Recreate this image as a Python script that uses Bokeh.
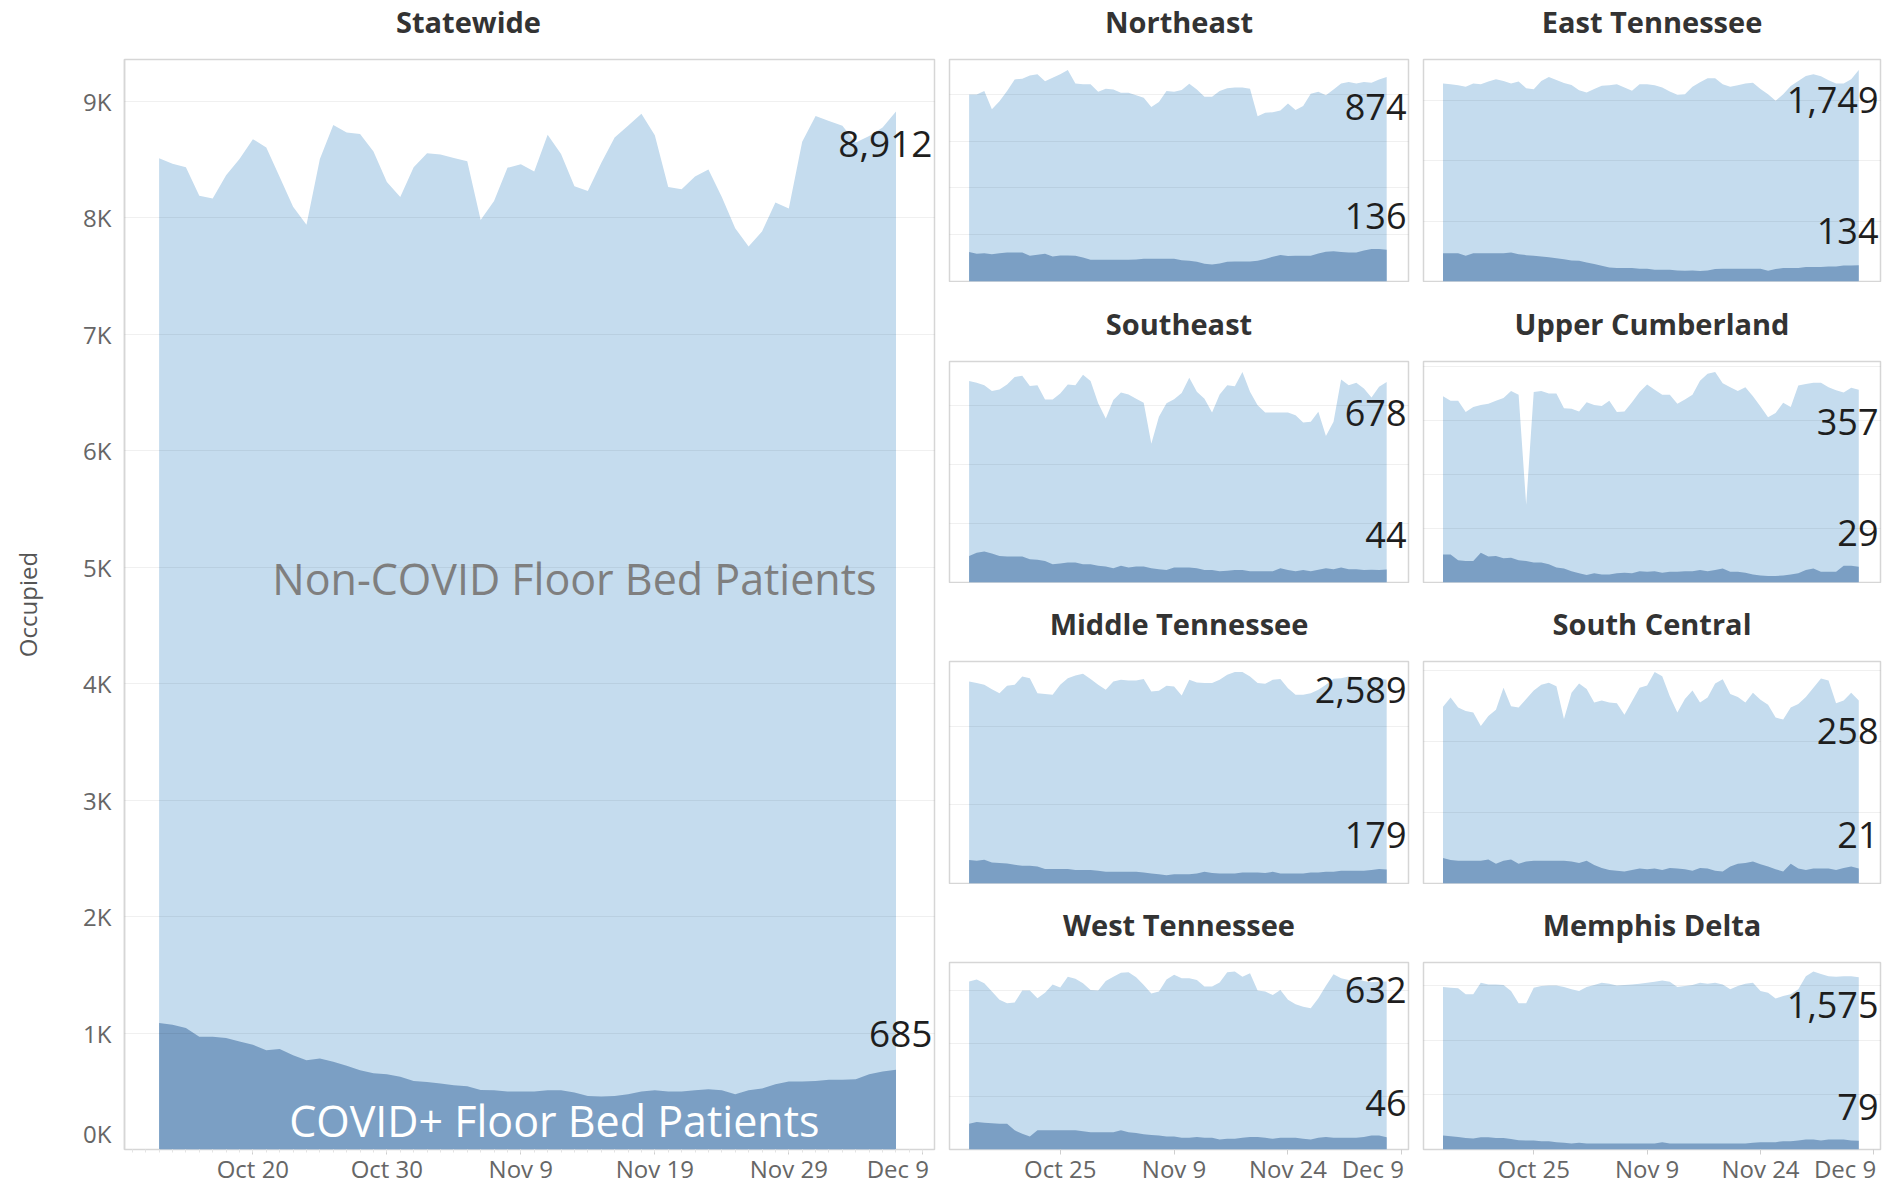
import pandas as pd
from bokeh.plotting import figure
from bokeh.layouts import row, column
from bokeh.models import Range1d, FixedTicker, CustomJSTickFormatter
from bokeh.core.properties import value
from bokeh.embed import file_html
from bokeh.resources import INLINE

# ---------------- data ----------------
DATES = pd.date_range("2020-10-13", "2020-12-07", freq="D")  # 56 days

STATEWIDE_NON = [8510, 8462, 8433, 8187, 8164, 8363, 8504, 8674, 8603, 8348,
                 8093, 7938, 8504, 8796, 8731, 8717, 8567, 8306, 8178, 8433,
                 8552, 8541, 8513, 8484, 7980, 8142, 8428, 8459, 8397, 8711,
                 8547, 8269, 8229, 8470, 8688, 8788, 8892, 8708, 8263, 8244,
                 8354, 8414, 8178, 7909, 7753, 7881, 8130, 8079, 8652, 8873,
                 8830, 8788, 8646, 8700, 8773, 8912]
STATEWIDE_COVID = [1086, 1072, 1043, 968, 968, 957, 928, 899, 853, 862,
                   810, 767, 782, 753, 718, 681, 655, 647, 624, 589,
                   580, 566, 552, 543, 511, 509, 497, 497, 497, 509,
                   509, 489, 460, 454, 460, 474, 497, 509, 497, 497,
                   509, 517, 509, 474, 509, 523, 560, 583, 583, 589,
                   598, 598, 603, 647, 670, 685]

NE_NON = [800, 800, 814, 736, 771, 814, 864, 867, 881, 886,
          856, 871, 886, 904, 847, 843, 843, 811, 824, 821,
          807, 807, 796, 786, 746, 767, 814, 811, 819, 846,
          821, 790, 790, 814, 826, 829, 829, 824, 707, 721,
          724, 731, 761, 733, 750, 803, 811, 796, 821, 847,
          853, 847, 853, 850, 864, 874]
NE_COVID = [126, 119, 121, 117, 121, 124, 124, 124, 110, 114,
            119, 107, 111, 111, 110, 103, 93, 93, 93, 93,
            93, 93, 94, 97, 97, 97, 97, 97, 91, 89,
            84, 76, 73, 77, 84, 86, 86, 86, 89, 96,
            106, 113, 109, 110, 110, 110, 120, 127, 129, 126,
            124, 124, 133, 139, 139, 136]

ET_NON = [1637, 1632, 1624, 1610, 1637, 1632, 1654, 1673, 1659, 1637,
          1654, 1599, 1591, 1659, 1692, 1667, 1643, 1626, 1582, 1563,
          1593, 1620, 1624, 1632, 1604, 1577, 1632, 1632, 1624, 1604,
          1571, 1544, 1549, 1610, 1648, 1681, 1681, 1632, 1610, 1624,
          1637, 1645, 1593, 1549, 1495, 1549, 1618, 1659, 1700, 1714,
          1697, 1665, 1637, 1637, 1673, 1749]
ET_COVID = [234, 234, 234, 212, 234, 234, 234, 234, 234, 240,
            226, 218, 212, 207, 201, 193, 185, 174, 171, 158,
            144, 130, 116, 111, 111, 111, 105, 105, 97, 97,
            97, 92, 89, 92, 86, 92, 103, 105, 105, 105,
            105, 105, 105, 89, 103, 111, 111, 111, 119, 119,
            119, 125, 125, 133, 133, 134]

SE_NON = [682, 676, 667, 648, 653, 670, 695, 699, 665, 667,
          619, 619, 639, 670, 667, 703, 682, 606, 555, 617,
          643, 636, 622, 608, 469, 561, 606, 620, 641, 693,
          645, 622, 575, 636, 667, 664, 712, 645, 600, 575,
          575, 575, 575, 566, 541, 544, 578, 496, 544, 687,
          667, 676, 656, 626, 662, 678]
SE_COVID = [90, 101, 105, 98, 90, 88, 88, 88, 79, 77,
            73, 62, 64, 68, 68, 62, 62, 57, 54, 48,
            57, 51, 54, 54, 48, 45, 42, 51, 51, 51,
            48, 42, 42, 38, 40, 42, 42, 38, 38, 38,
            38, 48, 42, 38, 42, 38, 43, 48, 45, 51,
            45, 45, 42, 43, 42, 44]

UC_NON = [345, 337, 337, 316, 325, 329, 331, 337, 342, 355,
          348, 144, 353, 355, 350, 350, 323, 322, 317, 334,
          329, 327, 337, 316, 317, 334, 353, 367, 357, 348,
          348, 331, 339, 348, 374, 387, 390, 369, 362, 355,
          362, 345, 326, 306, 314, 333, 325, 365, 368, 370,
          370, 362, 356, 352, 361, 357]
UC_COVID = [52, 52, 41, 40, 40, 55, 48, 49, 45, 46,
            41, 40, 37, 37, 34, 28, 26, 21, 17, 14,
            17, 15, 15, 17, 18, 17, 21, 20, 21, 18,
            20, 20, 21, 21, 23, 21, 23, 26, 20, 20,
            18, 15, 13, 12, 12, 13, 15, 17, 23, 26,
            20, 20, 20, 31, 31, 29]

MT_NON = [2566, 2545, 2523, 2468, 2417, 2510, 2523, 2630, 2608, 2417,
          2408, 2396, 2523, 2608, 2642, 2664, 2596, 2523, 2459, 2566,
          2587, 2579, 2579, 2596, 2438, 2447, 2510, 2502, 2387, 2587,
          2553, 2545, 2545, 2587, 2651, 2685, 2685, 2630, 2545, 2536,
          2587, 2596, 2481, 2396, 2396, 2417, 2459, 2523, 2600, 2608,
          2630, 2621, 2596, 2587, 2608, 2589]
MT_COVID = [298, 289, 302, 268, 260, 255, 238, 226, 226, 217,
            183, 183, 183, 183, 170, 170, 170, 162, 149, 149,
            149, 149, 149, 140, 128, 119, 106, 119, 119, 119,
            128, 149, 132, 128, 128, 128, 140, 140, 140, 132,
            149, 128, 128, 128, 128, 140, 140, 149, 149, 162,
            162, 162, 162, 170, 183, 179]

SC_NON = [249, 262, 248, 243, 241, 222, 236, 245, 276, 250,
          248, 260, 272, 280, 283, 278, 232, 269, 282, 274,
          255, 258, 255, 254, 238, 257, 276, 279, 298, 292,
          264, 241, 260, 272, 255, 262, 282, 288, 267, 263,
          255, 269, 259, 252, 234, 231, 248, 253, 263, 276,
          289, 286, 254, 258, 269, 258]
SC_COVID = [36, 33, 32, 32, 32, 32, 34, 28, 32, 34,
            28, 31, 32, 32, 32, 32, 32, 31, 29, 32,
            26, 22, 19, 18, 17, 19, 21, 20, 21, 19,
            22, 21, 20, 18, 22, 21, 18, 17, 24, 28,
            29, 31, 27, 24, 20, 17, 28, 21, 19, 21,
            21, 21, 19, 22, 24, 21]

WT_NON = [632, 640, 625, 594, 563, 550, 553, 598, 598, 569,
          590, 621, 609, 650, 642, 625, 600, 598, 634, 650,
          665, 667, 648, 619, 587, 594, 640, 657, 644, 644,
          638, 613, 613, 628, 667, 670, 650, 663, 598, 594,
          581, 600, 563, 546, 537, 531, 569, 616, 659, 644,
          638, 642, 634, 629, 632, 632]
WT_COVID = [97, 103, 101, 99, 97, 97, 72, 59, 49, 72,
            72, 72, 72, 72, 72, 69, 65, 65, 65, 65,
            72, 65, 62, 57, 55, 53, 49, 49, 44, 44,
            47, 44, 44, 38, 40, 40, 44, 47, 47, 44,
            40, 44, 44, 44, 40, 38, 44, 47, 44, 44,
            44, 44, 47, 53, 53, 46]

MD_NON = [1485, 1479, 1473, 1419, 1419, 1524, 1509, 1509, 1503, 1449,
          1336, 1336, 1479, 1494, 1500, 1500, 1485, 1464, 1449, 1485,
          1503, 1524, 1515, 1500, 1503, 1509, 1515, 1524, 1533, 1545,
          1533, 1485, 1494, 1503, 1524, 1515, 1524, 1509, 1464, 1494,
          1515, 1524, 1449, 1434, 1381, 1404, 1419, 1464, 1584, 1628,
          1604, 1584, 1578, 1584, 1584, 1575]
MD_COVID = [127, 121, 115, 106, 100, 112, 112, 106, 106, 97,
            85, 82, 82, 76, 76, 67, 61, 55, 61, 55,
            55, 55, 55, 55, 55, 55, 55, 55, 55, 67,
            55, 55, 55, 55, 55, 55, 55, 55, 55, 55,
            55, 61, 67, 67, 67, 76, 76, 82, 91, 91,
            82, 91, 91, 91, 82, 79]

# region name, non-covid, covid, gridline step, label offset of the non-COVID value (px)
GRID = [
    [("Northeast", NE_NON, NE_COVID, 200, 30), ("East Tennessee", ET_NON, ET_COVID, 500, 30)],
    [("Southeast", SE_NON, SE_COVID, 200, 31), ("Upper Cumberland", UC_NON, UC_COVID, 100, 32)],
    [("Middle Tennessee", MT_NON, MT_COVID, 1000, 10), ("South Central", SC_NON, SC_COVID, 100, 31)],
    [("West Tennessee", WT_NON, WT_COVID, 200, 8), ("Memphis Delta", MD_NON, MD_COVID, 500, 28)],
]

STATE_TICK_DATES = ["2020-10-20", "2020-10-30", "2020-11-09", "2020-11-19", "2020-11-29", "2020-12-09"]
STATE_TICK_LABELS = ["Oct 20", "Oct 30", "Nov 9", "Nov 19", "Nov 29", "Dec 9"]
SMALL_TICK_DATES = ["2020-10-25", "2020-11-09", "2020-11-24", "2020-12-09"]
SMALL_TICK_LABELS = ["Oct 25", "Nov 9", "Nov 24", "Dec 9"]
STATE_Y_TICKS = [1000, 2000, 3000, 4000, 5000, 6000, 7000, 8000, 9000]
STATE_Y_LABELS = ["1K", "2K", "3K", "4K", "5K", "6K", "7K", "8K", "9K"]

# ---------------- style ----------------
LIGHT = "#c5dcee"
DARK = "#7b9fc4"
FRAME = "#d6d6d6"
FONT = "Open Sans"
TXT = "#1e1e1e"
ZERO_LABEL_LIFT = 140  # Tableau lifts the "0K" label above the baseline
NBSP = "\u00a0"

DAY0 = DATES[0]
X = [(d - DAY0).days for d in DATES]
ONE = pd.Timedelta(days=1)
X_LO = (pd.Timestamp("2020-10-10 10:00") - DAY0) / ONE
X_HI = (pd.Timestamp("2020-12-09 21:00") - DAY0) / ONE


def day(s):
    return (pd.Timestamp(s) - DAY0).days


def style_xaxis(p, dates, labels, minor, last_pad):
    # the last label is kept inside the pane (shifted left as Tableau does)
    shown = labels[:-1] + [labels[-1] + NBSP * last_pad]
    ax = p.xaxis[0]
    ax.ticker = FixedTicker(ticks=[day(d) for d in dates], minor_ticks=minor)
    ax.formatter = CustomJSTickFormatter(
        args=dict(pos=[day(d) for d in dates], labs=shown),
        code="const i = pos.indexOf(tick); return i < 0 ? '' : labs[i];")
    ax.axis_line_color = None
    ax.major_tick_line_color = "#cfcfcf"
    ax.major_tick_in = 0
    ax.major_tick_out = 5
    ax.minor_tick_line_color = "#e4e4e4" if minor else None
    ax.minor_tick_in = 0
    ax.minor_tick_out = 3
    ax.major_label_standoff = -3
    ax.major_label_text_font = FONT
    ax.major_label_text_font_size = "24px"
    ax.major_label_text_color = "#666666"


def title_fig(text, width, height, lb, rb, cx):
    # frames in a column are aligned, so the title frame spans lb .. width-rb
    t = figure(width=width, height=height, x_range=Range1d(lb, width - rb), y_range=Range1d(0, height),
               output_backend="svg", toolbar_location=None, tools="",
               x_axis_location=None, y_axis_location=None, min_border=0,
               outline_line_color=None, background_fill_color="white", border_fill_color="white")
    t.xgrid.visible = False
    t.ygrid.visible = False
    t.text(x=[cx], y=[37], text=[text], text_align="center", text_baseline="middle",
           text_font=value(FONT), text_font_style="bold", text_font_size="29px",
           text_color="#333333")
    return t


def chart_fig(non, width, height, lb, rb, bb, show_x, show_y, step):
    ymax = max(non) * 1.05
    p = figure(width=width, height=height,
               x_range=Range1d(X_LO, X_HI), y_range=Range1d(0, ymax),
               output_backend="svg", toolbar_location=None, tools="",
               x_axis_location="below" if show_x else None,
               y_axis_location="left" if show_y else None,
               min_border_left=lb, min_border_right=rb,
               min_border_top=1, min_border_bottom=bb,
               background_fill_color="white", border_fill_color="white")
    p.outline_line_color = FRAME
    p.outline_line_width = 1.5
    p.xgrid.visible = False
    g = p.ygrid[0]
    g.ticker = FixedTicker(ticks=list(range(step, int(ymax) + 1, step)))
    g.grid_line_color = "black"
    g.grid_line_alpha = 0.06
    g.level = "overlay"
    return p


def draw_areas(p, non, covid, lab_size, off_non, off_cov):
    p.varea(x=X, y1=0, y2=non, fill_color=LIGHT)
    p.varea(x=X, y1=0, y2=covid, fill_color=DARK)
    p.text(x=[X_HI], y=[non[-1]], text=[f"{non[-1]:,}"], text_align="right",
           text_baseline="middle", x_offset=-2, y_offset=off_non,
           text_font=value(FONT), text_font_size=lab_size, text_color=TXT)
    p.text(x=[X_HI], y=[covid[-1]], text=[f"{covid[-1]:,}"], text_align="right",
           text_baseline="middle", x_offset=-2, y_offset=off_cov,
           text_font=value(FONT), text_font_size=lab_size, text_color=TXT)


# ---------------- statewide ----------------
SW_W, SW_L, SW_R = 941, 124, 7
state_title = title_fig("Statewide", SW_W, 58, SW_L, SW_R, 468)
state = chart_fig(STATEWIDE_NON, SW_W, 1130, SW_L, SW_R, 39, True, True, 1000)
ya = state.yaxis[0]
ya.ticker = FixedTicker(ticks=[ZERO_LABEL_LIFT] + STATE_Y_TICKS)
ya.formatter = CustomJSTickFormatter(
    args=dict(pos=STATE_Y_TICKS, labs=STATE_Y_LABELS),
    code="const i = pos.indexOf(tick); return i < 0 ? '0K' : labs[i];")
ya.axis_line_color = FRAME
ya.axis_line_width = 1.5
ya.major_tick_line_color = None
ya.minor_tick_line_color = None
ya.major_label_standoff = 7
ya.major_label_text_font = FONT
ya.major_label_text_font_size = "24px"
ya.major_label_text_color = "#666666"
ya.axis_label = "Occupied"
ya.axis_label_text_font = FONT
ya.axis_label_text_font_style = "normal"
ya.axis_label_text_font_size = "24px"
ya.axis_label_text_color = "#555555"
ya.axis_label_standoff = 36
style_xaxis(state, STATE_TICK_DATES, STATE_TICK_LABELS, list(range(-2, 58)), 2)
draw_areas(state, STATEWIDE_NON, STATEWIDE_COVID, "37px", 33, -36)

# category labels inside the statewide chart
state.text(x=[(X[0] + X[-1]) / 2 + 3.5], y=[max(STATEWIDE_NON) * 0.55], text=["Non-COVID Floor Bed Patients"],
           text_align="center", text_baseline="middle", text_font=value(FONT),
           text_font_size="43px", text_color="#7f7f7f")
state.text(x=[(X[0] + X[-1]) / 2 + 2.0], y=[min(STATEWIDE_COVID) * 0.55], text=["COVID+ Floor Bed Patients"],
           text_align="center", text_baseline="middle", text_font=value(FONT),
           text_font_size="43px", text_color="white")

state_col = column(state_title, state, spacing=0)

# ---------------- small multiples ----------------
TITLE_H = [58, 78, 77, 77]
CHART_H = [224, 223, 224, 227]
CHART_B = [1, 1, 1, 39]
COL_W = [475, 466]
COL_L = [8, 7]
COL_R = [8, 2]
COL_PAD = [2, 1]

rows = []
for r, pair in enumerate(GRID):
    cols = []
    for c, (name, non, cov, step, off) in enumerate(pair):
        last = (r == len(GRID) - 1)
        cx = (COL_L[c] + COL_W[c] - COL_R[c]) / 2
        t = title_fig(name, COL_W[c], TITLE_H[r], COL_L[c], COL_R[c], cx)
        p = chart_fig(non, COL_W[c], CHART_H[r], COL_L[c], COL_R[c], CHART_B[r], last, False, step)
        if last:
            style_xaxis(p, SMALL_TICK_DATES, SMALL_TICK_LABELS, [], COL_PAD[c])
        draw_areas(p, non, cov, "36px", off, -34)
        cols.append(column(t, p, spacing=0))
    rows.append(row(*cols, spacing=0))

layout = row(state_col, column(*rows, spacing=0), spacing=0)

open("out.html", "w").write(file_html(layout, INLINE))
